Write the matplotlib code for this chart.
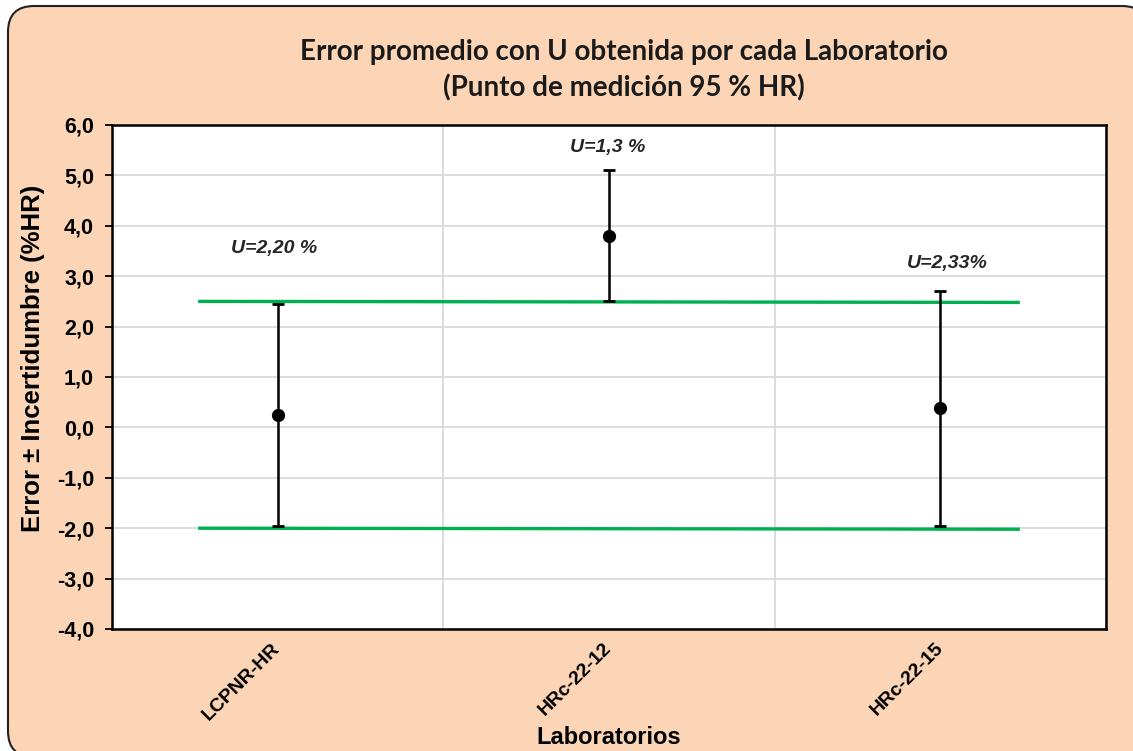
import numpy as np
import matplotlib.pyplot as plt
from matplotlib.patches import FancyBboxPatch

# data
labs = ["LCPNR-HR", "HRc-22-12", "HRc-22-15"]
error = [0.25, 3.80, 0.38]
U = [2.20, 1.30, 2.33]
u_text = ["U=2,20 %", "U=1,3 %", "U=2,33%"]
u_text_y = [3.55, 5.55, 3.25]
u_text_dx = [-0.01, -0.005, 0.02]
lim_x = [-0.235, 2.235]
lim_upper = [2.50, 2.48]
lim_lower = [-2.00, -2.02]

peach = "#FBD5B5"
green = "#00B050"
sans = ["Liberation Sans", "DejaVu Sans"]

fig = plt.figure(figsize=(11.33, 7.51), dpi=100, facecolor="white")

# rounded chart border (pixels)
border = FancyBboxPatch((8, -6), 1140, 751, boxstyle="round,pad=0,rounding_size=26",
                        transform=None, facecolor=peach, edgecolor="#222222",
                        linewidth=1.5, zorder=-5)
fig.patches.append(border)

ax = fig.add_axes([112 / 1133, 1 - 629 / 751, (1106 - 112) / 1133, (629 - 125) / 751])
ax.set_zorder(2)
ax.set_facecolor("white")

x = np.arange(len(labs))

ax.plot(lim_x, lim_upper, color=green, lw=2.4, zorder=3)
ax.plot(lim_x, lim_lower, color=green, lw=2.4, zorder=3)

ax.errorbar(x, error, yerr=U, fmt="o", color="black", ecolor="black",
            markersize=8.5, elinewidth=1.8, capsize=4.5, capthick=2, zorder=4)

for xi, t, ty, dx in zip(x, u_text, u_text_y, u_text_dx):
    ax.text(xi + dx, ty, t, ha="center", va="center", fontsize=14,
            fontweight="bold", fontstyle="italic", color="#262626", family=sans)

ax.set_xlim(-0.5, 2.5)
ax.set_ylim(-4, 6)
yt = np.arange(-4, 6.1, 1)
ax.set_yticks(yt)
ax.set_yticklabels([f"{v:.1f}".replace(".", ",") for v in yt])
ax.set_xticks(x)
ax.set_xticklabels(labs)
ax.set_xticks(np.arange(-0.5, 2.6, 0.5), minor=True)

ax.grid(True, which="major", axis="y", color="#D9D9D9", lw=1.3, zorder=0)
ax.grid(True, which="minor", axis="x", color="#D9D9D9", lw=1.3, zorder=0)
ax.tick_params(axis="x", which="both", length=0, pad=12)
ax.tick_params(axis="y", length=5, width=1.3, pad=8)
for s in ax.spines.values():
    s.set_linewidth(1.8)
    s.set_color("black")
ax.set_axisbelow(True)

for lbl in ax.get_yticklabels():
    lbl.set_fontsize(15.5)
    lbl.set_fontweight("bold")
    lbl.set_family(sans)
for lbl in ax.get_xticklabels():
    lbl.set_fontsize(14)
    lbl.set_fontweight("bold")
    lbl.set_family(sans)
    lbl.set_rotation(45)
    lbl.set_rotation_mode("anchor")
    lbl.set_ha("right")
    lbl.set_va("center")

ax.set_ylabel("Error ± Incertidumbre (%HR)", fontsize=18.5, fontweight="bold",
              family=sans, va="center")
ax.yaxis.set_label_coords((33 - 112) / 994, (629 - 358) / 504)
fig.text(609 / 1133, 1 - 738 / 751, "Laboratorios", ha="center", va="center",
         fontsize=17, fontweight="bold",
         family=["Liberation Sans Narrow", "Liberation Sans", "DejaVu Sans"])

fig.text(624 / 1133, 1 - 70 / 751,
         "Error promedio con U obtenida por cada Laboratorio\n(Punto de medición 95 % HR)",
         ha="center", va="center", fontsize=20, fontweight="bold",
         linespacing=1.4, family=["Lato", "DejaVu Sans"], color="#1a1a1a")

fig.savefig("out.png", dpi=100, facecolor=fig.get_facecolor())
